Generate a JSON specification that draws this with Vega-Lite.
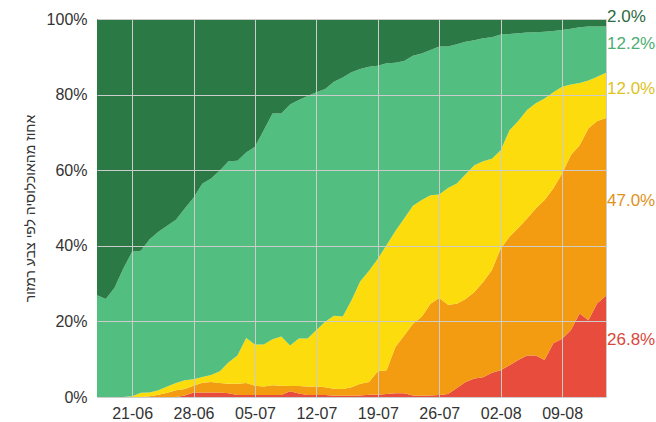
{
  "$schema": "https://vega.github.io/schema/vega-lite/v6.json",
  "width": 509,
  "height": 378,
  "autosize": {"type": "none"},
  "padding": {"left": 97, "top": 19, "right": 50, "bottom": 25},
  "background": "white",
  "config": {
    "font": "Liberation Sans",
    "view": {"stroke": "#cccccc", "strokeWidth": 1}
  },
  "data": {
    "values": [
      {"date": "2020-06-17T00:00", "c1red": 0, "c2orange": 0, "c3yellow": 0, "c4lgreen": 26.9, "c5dgreen": 73.1},
      {"date": "2020-06-18T00:00", "c1red": 0, "c2orange": 0, "c3yellow": 0, "c4lgreen": 25.9, "c5dgreen": 74.1},
      {"date": "2020-06-19T00:00", "c1red": 0, "c2orange": 0, "c3yellow": 0, "c4lgreen": 28.9, "c5dgreen": 71.1},
      {"date": "2020-06-20T00:00", "c1red": 0, "c2orange": 0, "c3yellow": 0, "c4lgreen": 34.0, "c5dgreen": 66.0},
      {"date": "2020-06-21T00:00", "c1red": 0, "c2orange": 0, "c3yellow": 0.2, "c4lgreen": 38.2, "c5dgreen": 61.6},
      {"date": "2020-06-22T00:00", "c1red": 0, "c2orange": 0, "c3yellow": 1.1, "c4lgreen": 37.6, "c5dgreen": 61.3},
      {"date": "2020-06-23T00:00", "c1red": 0, "c2orange": 0.2, "c3yellow": 1.0, "c4lgreen": 40.5, "c5dgreen": 58.3},
      {"date": "2020-06-24T00:00", "c1red": 0, "c2orange": 0.6, "c3yellow": 1.2, "c4lgreen": 41.9, "c5dgreen": 56.3},
      {"date": "2020-06-25T00:00", "c1red": 0, "c2orange": 1.1, "c3yellow": 1.7, "c4lgreen": 42.5, "c5dgreen": 54.7},
      {"date": "2020-06-26T00:00", "c1red": 0, "c2orange": 1.8, "c3yellow": 1.9, "c4lgreen": 43.2, "c5dgreen": 53.1},
      {"date": "2020-06-27T00:00", "c1red": 0.4, "c2orange": 1.7, "c3yellow": 2.3, "c4lgreen": 45.5, "c5dgreen": 50.1},
      {"date": "2020-06-28T00:00", "c1red": 1.2, "c2orange": 1.8, "c3yellow": 1.7, "c4lgreen": 48.0, "c5dgreen": 47.3},
      {"date": "2020-06-29T00:00", "c1red": 1.2, "c2orange": 2.6, "c3yellow": 1.5, "c4lgreen": 51.1, "c5dgreen": 43.6},
      {"date": "2020-06-30T00:00", "c1red": 1.2, "c2orange": 2.8, "c3yellow": 1.8, "c4lgreen": 52.0, "c5dgreen": 42.2},
      {"date": "2020-07-01T00:00", "c1red": 1.2, "c2orange": 2.5, "c3yellow": 3.1, "c4lgreen": 53.1, "c5dgreen": 40.1},
      {"date": "2020-07-02T00:00", "c1red": 1.0, "c2orange": 2.5, "c3yellow": 5.7, "c4lgreen": 53.2, "c5dgreen": 37.6},
      {"date": "2020-07-03T00:00", "c1red": 0.5, "c2orange": 3.0, "c3yellow": 7.5, "c4lgreen": 51.5, "c5dgreen": 37.5},
      {"date": "2020-07-04T00:00", "c1red": 0.5, "c2orange": 3.2, "c3yellow": 11.9, "c4lgreen": 49.1, "c5dgreen": 35.3},
      {"date": "2020-07-05T00:00", "c1red": 0.5, "c2orange": 2.5, "c3yellow": 10.9, "c4lgreen": 52.3, "c5dgreen": 33.8},
      {"date": "2020-07-06T00:00", "c1red": 0.5, "c2orange": 2.3, "c3yellow": 11.1, "c4lgreen": 56.7, "c5dgreen": 29.4},
      {"date": "2020-07-07T00:00", "c1red": 0.5, "c2orange": 2.6, "c3yellow": 12.2, "c4lgreen": 59.7, "c5dgreen": 25.0},
      {"date": "2020-07-08T00:00", "c1red": 0.5, "c2orange": 2.5, "c3yellow": 13.0, "c4lgreen": 59.0, "c5dgreen": 25.0},
      {"date": "2020-07-09T00:00", "c1red": 1.5, "c2orange": 1.4, "c3yellow": 10.7, "c4lgreen": 63.8, "c5dgreen": 22.6},
      {"date": "2020-07-10T00:00", "c1red": 0.9, "c2orange": 2.0, "c3yellow": 12.6, "c4lgreen": 63.1, "c5dgreen": 21.4},
      {"date": "2020-07-11T00:00", "c1red": 0.5, "c2orange": 2.3, "c3yellow": 12.7, "c4lgreen": 64.1, "c5dgreen": 20.4},
      {"date": "2020-07-12T00:00", "c1red": 0.5, "c2orange": 2.3, "c3yellow": 14.9, "c4lgreen": 62.9, "c5dgreen": 19.4},
      {"date": "2020-07-13T00:00", "c1red": 0.5, "c2orange": 2.1, "c3yellow": 17.3, "c4lgreen": 61.6, "c5dgreen": 18.5},
      {"date": "2020-07-14T00:00", "c1red": 0.3, "c2orange": 1.9, "c3yellow": 19.3, "c4lgreen": 61.9, "c5dgreen": 16.6},
      {"date": "2020-07-15T00:00", "c1red": 0.3, "c2orange": 1.8, "c3yellow": 19.2, "c4lgreen": 63.2, "c5dgreen": 15.5},
      {"date": "2020-07-16T00:00", "c1red": 0.3, "c2orange": 2.3, "c3yellow": 23.0, "c4lgreen": 60.3, "c5dgreen": 14.1},
      {"date": "2020-07-17T00:00", "c1red": 0.4, "c2orange": 3.1, "c3yellow": 27.1, "c4lgreen": 56.2, "c5dgreen": 13.2},
      {"date": "2020-07-18T00:00", "c1red": 0.6, "c2orange": 3.4, "c3yellow": 29.4, "c4lgreen": 54.0, "c5dgreen": 12.6},
      {"date": "2020-07-19T00:00", "c1red": 0.6, "c2orange": 6.2, "c3yellow": 29.8, "c4lgreen": 51.0, "c5dgreen": 12.4},
      {"date": "2020-07-20T00:00", "c1red": 0.8, "c2orange": 6.3, "c3yellow": 33.1, "c4lgreen": 48.1, "c5dgreen": 11.7},
      {"date": "2020-07-21T00:00", "c1red": 1.0, "c2orange": 12.2, "c3yellow": 30.7, "c4lgreen": 44.5, "c5dgreen": 11.6},
      {"date": "2020-07-22T00:00", "c1red": 1.0, "c2orange": 15.3, "c3yellow": 30.9, "c4lgreen": 41.7, "c5dgreen": 11.1},
      {"date": "2020-07-23T00:00", "c1red": 0.4, "c2orange": 19.0, "c3yellow": 31.2, "c4lgreen": 39.7, "c5dgreen": 9.7},
      {"date": "2020-07-24T00:00", "c1red": 0.3, "c2orange": 20.9, "c3yellow": 30.9, "c4lgreen": 38.8, "c5dgreen": 9.1},
      {"date": "2020-07-25T00:00", "c1red": 0.4, "c2orange": 24.3, "c3yellow": 28.7, "c4lgreen": 38.4, "c5dgreen": 8.2},
      {"date": "2020-07-26T00:00", "c1red": 0.5, "c2orange": 25.7, "c3yellow": 27.4, "c4lgreen": 39.1, "c5dgreen": 7.3},
      {"date": "2020-07-27T00:00", "c1red": 0.8, "c2orange": 23.6, "c3yellow": 30.9, "c4lgreen": 37.4, "c5dgreen": 7.3},
      {"date": "2020-07-28T00:00", "c1red": 2.4, "c2orange": 22.3, "c3yellow": 31.8, "c4lgreen": 36.8, "c5dgreen": 6.7},
      {"date": "2020-07-29T00:00", "c1red": 4.0, "c2orange": 21.9, "c3yellow": 33.0, "c4lgreen": 35.1, "c5dgreen": 6.0},
      {"date": "2020-07-30T00:00", "c1red": 4.9, "c2orange": 22.9, "c3yellow": 33.5, "c4lgreen": 33.1, "c5dgreen": 5.6},
      {"date": "2020-07-31T00:00", "c1red": 5.2, "c2orange": 25.2, "c3yellow": 32.0, "c4lgreen": 32.5, "c5dgreen": 5.1},
      {"date": "2020-08-01T00:00", "c1red": 6.4, "c2orange": 27.2, "c3yellow": 29.4, "c4lgreen": 32.2, "c5dgreen": 4.8},
      {"date": "2020-08-02T00:00", "c1red": 7.1, "c2orange": 32.2, "c3yellow": 26.0, "c4lgreen": 30.6, "c5dgreen": 4.1},
      {"date": "2020-08-03T00:00", "c1red": 8.4, "c2orange": 34.0, "c3yellow": 28.2, "c4lgreen": 25.4, "c5dgreen": 4.0},
      {"date": "2020-08-04T00:00", "c1red": 9.8, "c2orange": 34.9, "c3yellow": 28.3, "c4lgreen": 23.2, "c5dgreen": 3.8},
      {"date": "2020-08-05T00:00", "c1red": 11.0, "c2orange": 36.2, "c3yellow": 28.7, "c4lgreen": 20.5, "c5dgreen": 3.6},
      {"date": "2020-08-06T00:00", "c1red": 11.0, "c2orange": 38.9, "c3yellow": 27.8, "c4lgreen": 18.8, "c5dgreen": 3.5},
      {"date": "2020-08-07T00:00", "c1red": 9.8, "c2orange": 42.3, "c3yellow": 26.9, "c4lgreen": 17.6, "c5dgreen": 3.4},
      {"date": "2020-08-08T00:00", "c1red": 14.2, "c2orange": 41.0, "c3yellow": 25.4, "c4lgreen": 16.2, "c5dgreen": 3.2},
      {"date": "2020-08-09T00:00", "c1red": 15.4, "c2orange": 43.7, "c3yellow": 23.0, "c4lgreen": 15.0, "c5dgreen": 2.9},
      {"date": "2020-08-10T00:00", "c1red": 17.7, "c2orange": 46.3, "c3yellow": 18.7, "c4lgreen": 14.7, "c5dgreen": 2.6},
      {"date": "2020-08-11T00:00", "c1red": 22.1, "c2orange": 44.5, "c3yellow": 16.5, "c4lgreen": 14.7, "c5dgreen": 2.2},
      {"date": "2020-08-12T00:00", "c1red": 20.3, "c2orange": 50.8, "c3yellow": 12.6, "c4lgreen": 14.3, "c5dgreen": 2.0},
      {"date": "2020-08-13T00:00", "c1red": 24.8, "c2orange": 48.2, "c3yellow": 11.7, "c4lgreen": 13.3, "c5dgreen": 2.0},
      {"date": "2020-08-14T00:00", "c1red": 26.8, "c2orange": 47.0, "c3yellow": 12.0, "c4lgreen": 12.2, "c5dgreen": 2.0}
    ]
  },
  "transform": [
    {"fold": ["c1red", "c2orange", "c3yellow", "c4lgreen", "c5dgreen"], "as": ["cat", "pct"]}
  ],
  "layer": [
    {
      "mark": {"type": "area", "interpolate": "linear"},
      "encoding": {
        "x": {
          "field": "date",
          "type": "temporal",
          "scale": {"nice": false},
          "axis": {
            "title": null,
            "format": "%d-%m",
            "tickCount": {"interval": "week", "step": 1},
            "grid": true,
            "gridColor": "#cccccc",
            "gridWidth": 1,
            "ticks": false,
            "domain": false,
            "labelFontSize": 16,
            "labelColor": "#333333",
            "labelPadding": 8,
            "zindex": 1
          }
        },
        "y": {
          "field": "pct",
          "type": "quantitative",
          "stack": "zero",
          "scale": {"domain": [0, 100], "nice": false},
          "axis": {
            "title": "אחוז מהאוכלוסיה לפי צבע רמזור",
            "titleFontSize": 14,
            "titleFontWeight": "normal",
            "titleColor": "#333333",
            "titlePadding": 9,
            "values": [0, 20, 40, 60, 80, 100],
            "labelExpr": "datum.value + '%'",
            "grid": true,
            "gridColor": "#cccccc",
            "gridWidth": 1,
            "ticks": false,
            "domain": false,
            "labelFontSize": 16,
            "labelColor": "#333333",
            "labelPadding": 10,
            "zindex": 1
          }
        },
        "color": {
          "field": "cat",
          "type": "nominal",
          "scale": {
            "domain": ["c1red", "c2orange", "c3yellow", "c4lgreen", "c5dgreen"],
            "range": ["#e74c3c", "#f39c12", "#fddc0e", "#52be80", "#2b7a45"]
          },
          "legend": null
        },
        "order": {"field": "cat", "type": "ordinal"}
      }
    },
    {
      "transform": [
        {"filter": "month(datum.date) == 7 && date(datum.date) == 14"},
        {"stack": "pct", "groupby": ["date"], "sort": [{"field": "cat", "order": "ascending"}], "as": ["lo", "hi"]},
        {"calculate": "(datum.lo + datum.hi) / 2", "as": "mid"},
        {"calculate": "format(datum.pct, '.1f') + '%'", "as": "lab"}
      ],
      "mark": {"type": "text", "align": "left", "baseline": "middle", "dx": 1, "dy": -6, "fontSize": 17},
      "encoding": {
        "x": {"field": "date", "type": "temporal"},
        "y": {"field": "mid", "type": "quantitative", "stack": null},
        "text": {"field": "lab"},
        "color": {
          "field": "cat",
          "type": "nominal",
          "scale": {
            "domain": ["c1red", "c2orange", "c3yellow", "c4lgreen", "c5dgreen"],
            "range": ["#d9473a", "#e0921c", "#e0c21c", "#4cae72", "#2d6b40"]
          },
          "legend": null
        }
      }
    }
  ],
  "resolve": {"scale": {"color": "independent"}}
}
